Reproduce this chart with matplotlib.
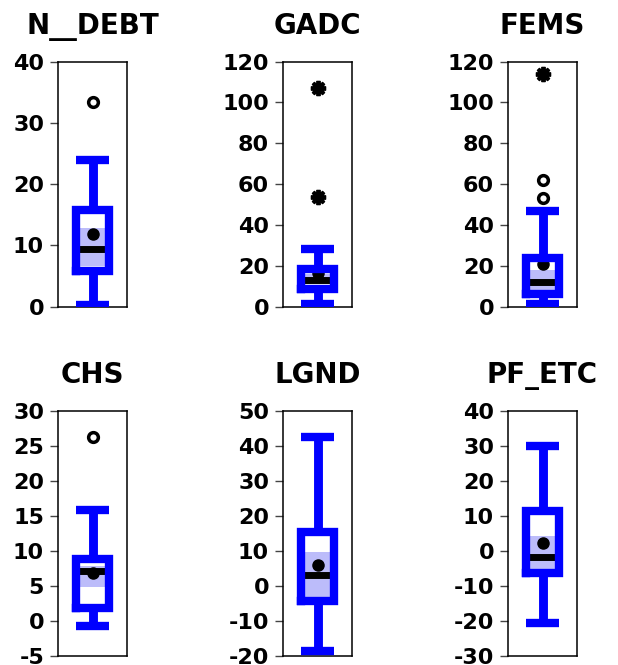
import matplotlib
matplotlib.use("Agg")
import matplotlib.pyplot as plt

plt.rcParams['font.family'] = ['DejaVu Sans']
plt.rcParams['font.weight'] = 'bold'
plt.rcParams['axes.unicode_minus'] = False

# values
names = ["N__DEBT", "GADC", "FEMS", "CHS", "LGND", "PF_ETC"]
q1 = [5.8, 8.5, 5.9, 1.9, -4.2, -6.4]
q3 = [15.8, 18.6, 23.6, 8.8, 15.3, 11.4]
median = [9.4, 12.9, 12.0, 7.2, 3.1, -1.6]
mean = [11.9, 16.6, 21.0, 6.9, 5.9, 2.2]
whisker_lo = [0.3, 1.1, 1.0, -0.7, -18.5, -20.5]
whisker_hi = [23.9, 28.1, 46.7, 15.8, 42.7, 30.0]
ci_lo = [6.6, 10.9, 8.2, 4.9, -3.0, -5.2]
ci_hi = [12.8, 15.8, 18.0, 7.9, 9.6, 4.3]
outliers = [[33.4], [], [53.2, 61.9], [26.3], [], []]
extremes = [[], [53.7, 106.8], [113.9], [], [], []]
y_min = [0, 0, 0, -5, -20, -30]
y_max = [40, 120, 120, 30, 50, 40]
y_step = [10, 20, 20, 5, 10, 10]

W, H = 618, 665
fig = plt.figure(figsize=(W / 100, H / 100), dpi=100)

lefts = [58, 283, 508]
tops = [61.5, 411]
pw, ph = 69, 245

for i in range(6):
    row, col = i // 3, i % 3
    ax = fig.add_axes([lefts[col] / W, 1 - (tops[row] + ph) / H, pw / W, ph / H])

    stats = [dict(med=median[i], q1=q1[i], q3=q3[i], whislo=whisker_lo[i],
                  whishi=whisker_hi[i], mean=mean[i], fliers=[])]
    ax.bxp(stats, positions=[1], widths=0.98, capwidths=0.96, showmeans=True,
           boxprops=dict(color='#0000ff', lw=6.0, solid_joinstyle='miter', zorder=4),
           whiskerprops=dict(color='#0000ff', lw=6.4, solid_capstyle='butt', zorder=3),
           capprops=dict(color='#0000ff', lw=6.0, solid_capstyle='butt', zorder=4),
           medianprops=dict(color='black', lw=5.0, solid_capstyle='butt', zorder=3.5),
           meanprops=dict(marker='o', markerfacecolor='black', markeredgecolor='black',
                          markersize=8, zorder=3.2))

    # light band around the median
    ax.bar(1, ci_hi[i] - ci_lo[i], bottom=ci_lo[i], width=0.9, color='#bcbcfa',
           zorder=2)

    if outliers[i]:
        ax.plot([1] * len(outliers[i]), outliers[i], 'o', mfc='white', mec='black',
                ms=7, mew=2.5, zorder=5)
    if extremes[i]:
        ax.plot([1] * len(extremes[i]), extremes[i], ls='none', marker=(8, 2, 0),
                color='black', ms=11, mew=2.8, zorder=5)
        ax.plot([1] * len(extremes[i]), extremes[i], 'o', color='black', ms=6, zorder=5)

    ax.set_xlim(0, 2)
    ax.set_ylim(y_min[i], y_max[i])
    ax.set_yticks(range(y_min[i], y_max[i] + 1, y_step[i]))
    ax.set_xticks([])
    ax.tick_params(axis='y', direction='out', length=6, width=1, color='#444444',
                   labelsize=16, pad=4)
    for sp in ax.spines.values():
        sp.set_linewidth(1.1)
        sp.set_color('black')
    ax.set_title(names[i], fontsize=20, fontweight='bold', pad=20)

fig.savefig("out.png", dpi=100)
